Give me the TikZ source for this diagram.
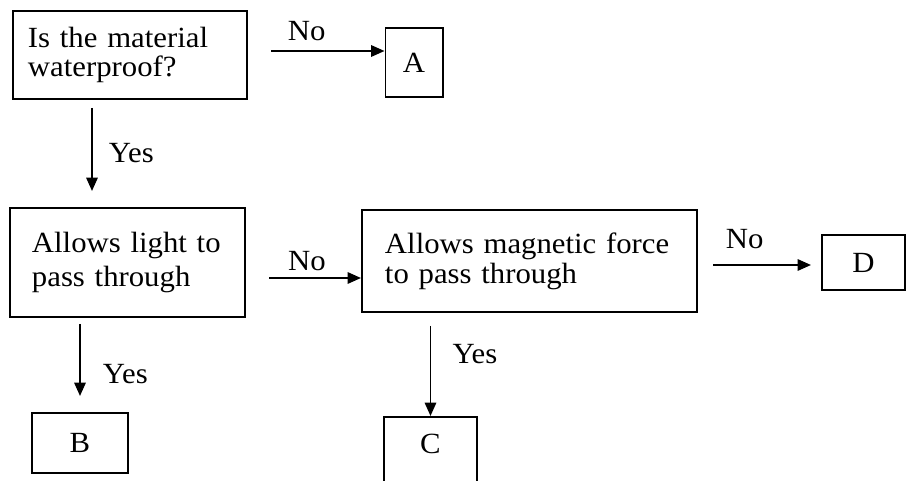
\documentclass[tikz,border=0pt]{standalone}
\usepackage{fontspec}
\setmainfont[FakeStretch=1.05]{Liberation Serif}
\usetikzlibrary{arrows.meta}

\begin{document}
\begin{tikzpicture}[x=0.03cm, y=-0.03cm, line width=1.7pt,
    qbox/.style={rectangle, draw, align=left, inner ysep=0pt, font=\fontsize{25}{25.5}\selectfont},
    abox/.style={rectangle, draw, inner sep=0pt, font=\fontsize{25}{28}\selectfont},
    lbl/.style={inner sep=0pt, font=\fontsize{25}{28}\selectfont},
    >={Triangle[length=0.4cm, width=0.34cm]}]

      \useasboundingbox (0,0) rectangle (911,481);

      \node[qbox, inner xsep=0.45cm, text width=6.12cm, minimum height=2.64cm] (water) at (130,55) {Is the material\\waterproof?};
      \node[abox, minimum width=1.71cm, minimum height=2.07cm] (A) at (414,62.5) {A};

      \node[qbox, inner xsep=0.66cm, text width=5.73cm, minimum height=3.27cm, font=\fontsize{25}{29.8}\selectfont] (light) at (127.5,262.5) {Allows light to\\pass through};
      \node[qbox, inner xsep=0.69cm, text width=8.67cm, minimum height=3.06cm] (magnet) at (529.5,261) {Allows magnetic force\\to pass through};
      \node[abox, minimum width=2.49cm, minimum height=1.65cm] (D) at (863.5,262.5) {D};

      \node[abox, minimum width=2.88cm, minimum height=1.8cm] (B) at (80,443) {B};
      \node[abox, anchor=north, minimum width=2.79cm, text height=1.11cm, text depth=1.29cm] (C) at (430.5,416) {C};

      \draw [->, shorten <=0.69cm] ([shift={(0,-4)}]water.east) -- ([shift={(0,-4)}]water.east -| A.west) node [lbl, pos=0.43, above=0.27cm] {No};
      \draw [->, shorten <=0.24cm, shorten >=0.48cm] ([shift={(-38,0)}]water.south) -- ([shift={(-38,0)}]water.south |- light.north) node [lbl, midway, right=0.48cm] {Yes};

      \draw [->, shorten <=0.69cm] ([shift={(0,15.5)}]light.east) -- ([shift={(0,15.5)}]light.east -| magnet.west) node [lbl, pos=0.53, above=0.2cm] {No};
      \draw [->, shorten <=0.45cm, shorten >=0.3cm] ([shift={(0,4)}]magnet.east) -- ([shift={(0,4)}]magnet.east -| D.west) node [lbl, pos=0.38, above=0.45cm] {No};

      \draw [->, shorten <=0.18cm, shorten >=0.48cm] (B.north |- light.south) -- (B.north) node [lbl, pos=0.6, right=0.66cm] {Yes};
      \draw [->, shorten <=0.39cm] (C.north |- magnet.south) -- (C.north) node [lbl, pos=0.4, right=0.63cm] {Yes};

\end{tikzpicture}
\end{document}
